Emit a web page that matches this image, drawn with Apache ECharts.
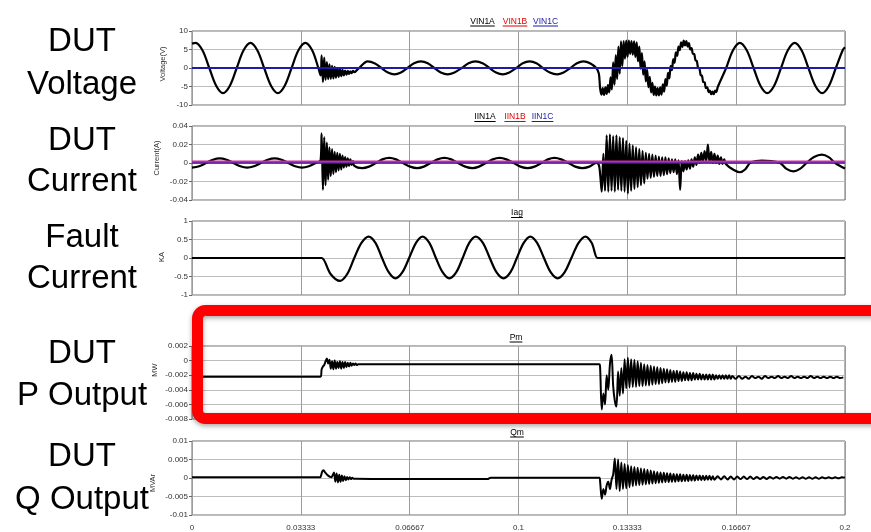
<!DOCTYPE html>
<html><head><meta charset="utf-8">
<script src="https://cdn.jsdelivr.net/npm/echarts@6/dist/echarts.min.js"></script>
<style>html,body{margin:0;padding:0;background:#fff}#c{width:871px;height:532px}</style>
</head><body><div id="c"></div>
<script>
// ===================== DATA =====================
// time axis (s)
const xTickLabels = ['0','0.03333','0.06667','0.1','0.13333','0.16667','0.2'];
const vTickLabels = ['-10','-5','0','5','10'];
const iTickLabels = ['-0.04','-0.02','0','0.02','0.04'];
const kaTickLabels = ['-1','-0.5','0','0.5','1'];
const pTickLabels = ['-0.008','-0.006','-0.004','-0.002','0','0.002'];
const qTickLabels = ['-0.01','-0.005','0','0.005','0.01'];

const panelLabels = [['DUT','Voltage'],['DUT','Current'],['Fault','Current'],['DUT','P Output'],['DUT','Q Output']];
const axisNames = ['Voltage(V)','Current(A)','KA','MW','MVAr'];
const voltageLegend = ['VIN1A','VIN1B','VIN1C'];
const currentLegend = ['IIN1A','IIN1B','IIN1C'];
const faultTitle = 'Iag', pTitle = 'Pm', qTitle = 'Qm';

// ---- DUT voltage, phase A: [t, V] points ----
const vinA_pre = [[0,6.6],[0.0011,6.8],[0.0032,4.8],[0.0053,0],[0.0074,-4.8],[0.0095,-6.8],[0.0116,-4.8],[0.0137,0],[0.0158,4.8],[0.0179,6.8],[0.02,4.8],[0.0221,0],[0.0242,-4.8],[0.0263,-6.8],[0.0284,-4.8],[0.0305,0],[0.0326,4.8],[0.0347,6.8],[0.0368,4.8],[0.0387,0],[0.0394,-2.0]];
// burst at fault inception: [start time, step] and sampled values
const vinA_b1_time = [0.0397, 0.0004];
const vinA_b1 = [3.4,-3.8,2.8,-3.2,1.6,-3.0,1.0,-2.9,0.6,-2.8,0.3,-2.6,0.0,-2.4,-0.3,-2.2,-0.5,-2.0,-0.7,-1.8,-0.8,-1.6,-0.9,-1.4,-0.8,-1.1];
const vinA_mid = [[0.0505,-0.6],[0.0512,0],[0.0538,1.8],[0.0559,1.3],[0.058,0],[0.06,-1.2],[0.062,-1.7],[0.064,-1.2],[0.066,0],[0.068,1.3],[0.0701,1.8],[0.0722,1.3],[0.0742,0],[0.0762,-1.2],[0.0783,-1.7],[0.0804,-1.2],[0.0826,0],[0.0847,1.3],[0.0868,1.8],[0.089,1.3],[0.0911,0],[0.0931,-1.2],[0.0952,-1.7],[0.0972,-1.2],[0.0993,0],[0.1013,1.3],[0.1034,1.8],[0.1055,1.3],[0.1075,0],[0.1096,-1.2],[0.1118,-1.7],[0.1138,-1.2],[0.1159,0],[0.1179,1.3],[0.1199,1.8],[0.1219,1.3],[0.1238,0],[0.1246,-1.5]];
const vinA_b2_time = [0.125, 0.0004];
const vinA_b2 = [-5.5,-7.2,-5.4,-7.3,-5.2,-7.0,-4.6,-6.6,-2.5,-5.8,
 1.5,-4.5,3.5,-3.0,5.8,-1.5,7.2,0.5,7.3,2.5,
 7.4,3.0,7.4,3.8,7.3,3.6,7.2,3.0,6.9,1.8,
 5.8,-0.2,4.0,-1.8,1.8,-3.6,-0.5,-5.2,-2.4,-6.6,
 -4.0,-7.3,-5.0,-7.4,-5.4,-7.4,-5.2,-7.2,-4.4,-6.4,
 -3.0,-4.8,-1.3,-2.8,0.6,-0.6,2.4,1.4,4.2,3.3,
 5.8,4.8,6.9,5.7,7.4,6.1,7.3,5.8,6.7,5.0,
 5.4,3.85,3.8,2.1,1.9,0.1,-0.1,-1.9,-2.1,-3.8,
 -3.85,-5.4,-5.2,-6.5,-6.1,-7.1,-6.4,-7.1,-6.1,-6.5,
 -5.2];
const vinA_post = [[0.1636,0],[0.1657,4.8],[0.1678,6.8],[0.1699,4.8],[0.172,0],[0.1741,-4.8],[0.1762,-6.8],[0.1783,-4.8],[0.1804,0],[0.1825,4.8],[0.1846,6.8],[0.1867,4.8],[0.1888,0],[0.1909,-4.8],[0.193,-6.8],[0.1951,-4.8],[0.1972,0],[0.1993,4.8],[0.2,5.6]];
const vinB = [[0,0],[0.2,0]];
const vinC = [[0,0],[0.2,0]];

// ---- DUT current, phase A: [t, A] ----
const iinA_pre = [[0,-0.005],[0.0022,-0.0035],[0.0043,0],[0.0064,0.0035],[0.0085,0.005],[0.0106,0.0035],[0.0127,0],[0.0148,-0.0035],[0.0169,-0.005],[0.019,-0.0035],[0.0211,0],[0.0232,0.0035],[0.0253,0.005],[0.0274,0.0035],[0.0295,0],[0.0316,-0.0035],[0.0337,-0.005],[0.0358,-0.0035],[0.0379,0],[0.0394,0.003]];
const iinA_b1_time = [0.0397, 0.0004];
const iinA_b1 = [0.032,-0.029,0.028,-0.024,0.022,-0.018,0.017,-0.014,0.015,-0.012,0.012,-0.010,0.011,-0.008,0.010,-0.007,0.008,-0.005,0.0065,-0.004,0.005,-0.003,0.004,-0.002,0.002,-0.003];
const iinA_mid = [[0.0521,-0.0055],[0.0542,-0.0039],[0.0563,0],[0.0583,0.0039],[0.0604,0.0055],[0.0625,0.0039],[0.0646,0],[0.0668,-0.0039],[0.069,-0.0055],[0.071,-0.0039],[0.0731,0],[0.0752,0.0039],[0.0773,0.0055],[0.0794,0.0039],[0.0815,0],[0.0837,-0.0039],[0.0859,-0.0055],[0.0879,-0.0039],[0.09,0],[0.0921,0.0039],[0.0942,0.0055],[0.0963,0.0039],[0.0985,0],[0.1006,-0.0039],[0.1028,-0.0055],[0.1049,-0.0039],[0.107,0],[0.109,0.0039],[0.111,0.0055],[0.1131,0.0039],[0.1153,0],[0.1174,-0.0039],[0.1196,-0.0055],[0.1217,-0.0039],[0.1238,0],[0.1246,-0.002]];
const iinA_b2_time = [0.125, 0.0005];
const iinA_b2 = [-0.012,-0.031,0.010,-0.030,
 0.030,-0.031,0.031,-0.030,0.029,-0.031,0.030,-0.029,0.028,-0.030,0.027,-0.031,
 0.024,-0.033,0.021,-0.030,0.019,-0.028,0.017,-0.026,0.015,-0.024,0.013,
 -0.022,0.011,-0.017,0.010,-0.016,0.009,-0.015,0.008,-0.014,0.007,-0.014,0.006,-0.013,0.006,
 -0.012,0.005,-0.011,0.004,-0.010,0.004,-0.012,0.003,
 -0.029,
 0.002,-0.009,0.002,-0.007,0.003,-0.006,0.004,-0.004,
 0.006,-0.002,0.009,0.000,0.011,0.001,0.013,0.002,0.020,
 0.001,0.012,0.000,0.010,0.000,0.008,-0.001,0.006,-0.001,0.004,-0.001];
const iinA_post = [[0.1657,-0.007],[0.1678,-0.010],[0.1694,-0.007],[0.1709,0],[0.1727,0.002],[0.1745,0.0025],[0.1775,0.002],[0.1801,0],[0.1821,-0.0064],[0.1842,-0.009],[0.1862,-0.0064],[0.1882,0],[0.1905,0.0064],[0.1929,0.009],[0.195,0.0064],[0.197,0],[0.2,-0.006]];
const iinB = [[0,0.0016],[0.2,0.0016]];
const iinC = [[0,0.0002],[0.2,0.0002]];

// ---- fault current Iag: [t, kA] ----
const iag = [[0,0],[0.039,0],[0.0397,0],[0.0425,-0.44],[0.0453,-0.62],[0.0475,-0.44],[0.0497,0],[0.0519,0.41],[0.0541,0.58],[0.0562,0.41],[0.0582,0],[0.0603,-0.39],[0.0623,-0.55],[0.0644,-0.39],[0.0665,0],[0.0686,0.41],[0.0706,0.58],[0.0727,0.41],[0.0747,0],[0.0768,-0.39],[0.0788,-0.55],[0.0809,-0.39],[0.0829,0],[0.0849,0.41],[0.0869,0.58],[0.0891,0.41],[0.0912,0],[0.0933,-0.39],[0.0954,-0.55],[0.0975,-0.39],[0.0995,0],[0.1016,0.41],[0.1036,0.58],[0.1057,0.41],[0.1078,0],[0.1099,-0.39],[0.112,-0.55],[0.1141,-0.39],[0.1162,0],[0.1184,0.41],[0.1205,0.58],[0.1224,0.41],[0.1242,0],[0.125,0],[0.2,0]];

// ---- DUT P output Pm: [t, MW] ----
const pm_pre = [[0,-0.0022],[0.0394,-0.0022]];
const pm_b1_time = [0.0397, 0.0004];
const pm_b1 = [-0.0012,-0.0008,-0.0006,-0.0001,0.0003,-0.0004,0.0001,-0.0011,-0.0001,-0.0012,0.0000,-0.0011,-0.0002,-0.0010,-0.0001,-0.0011,-0.0002,-0.0010,-0.0002,-0.0009,-0.0003,-0.0008,-0.0003,-0.0007,-0.0004,-0.0006,-0.0004,-0.0006,-0.0005];
const pm_mid = [[0.06,-0.0005],[0.09,-0.0005],[0.1248,-0.0005]];
const pm_b2_time = [0.125, 0.0005];
const pm_b2 = [-0.0010,-0.0067,-0.0045,-0.0060,-0.0020,-0.0040,-0.0005,0.0008,-0.0035,-0.0055,
 -0.0063,-0.0015,-0.0048,-0.0010,-0.0045,0.0002,-0.0038,0.0004,-0.0037,0.0002,
 -0.0036,0.0001,-0.0036,-0.0001,-0.0035,-0.0003,-0.0035,-0.0005,-0.0034,-0.0006,
 -0.0034,-0.0007,-0.0033,-0.0008,-0.0032,-0.0009,-0.0032,-0.0010,-0.0031,-0.0011,
 -0.0030,-0.0012,-0.0030,-0.0013,-0.0029,-0.0014,-0.0029,-0.0014,-0.0028,-0.0015,
 -0.0028,-0.0016,-0.0027,-0.0016,-0.0027,-0.0017,-0.0027,-0.0017,-0.0026,-0.0018,
 -0.0026,-0.0018,-0.0026,-0.0019,-0.0026,-0.0019,-0.0026,-0.0019,-0.0026,-0.0019,
 -0.0026,-0.0020,-0.0025,-0.0020,-0.0025,-0.0020,-0.0025,-0.0020,-0.0025,-0.0020,
 -0.0025];
const pm_tail_time = [0.1655, 0.001];
const pm_tail = [-0.0021,-0.0025,-0.0021,-0.0025,-0.0022,-0.0025,-0.0021,-0.0024,-0.0022,-0.0025,
 -0.0021,-0.0024,-0.0022,-0.0024,-0.0021,-0.0024,-0.0022,-0.0024,-0.0021,-0.0024,
 -0.0022,-0.0024,-0.0022,-0.0024,-0.0021,-0.0024,-0.0022,-0.0024,-0.0022,-0.0024,
 -0.0022,-0.0024,-0.0022,-0.0024,-0.0023];

// ---- DUT Q output Qm: [t, MVAr] ----
const qm_pre = [[0,0.0002],[0.0394,0.0002]];
const qm_b1_time = [0.0395, 0.0004];
const qm_b1 = [0.0003,0.0018,0.0021,0.0016,0.0012,0.0008,0.0005,0.0003,0.0002,0.0008,0.0015,-0.0010,0.0012,-0.0012,0.0009,-0.0010,0.0007,-0.0008,0.0005,-0.0006,0.0003,-0.0004,0.0002,-0.0003,0.0001,-0.0002];
const qm_mid = [[0.05,-0.0002],[0.06,-0.0003],[0.075,-0.0003],[0.0905,-0.0003],[0.0915,0.0001],[0.1248,0.0001]];
const qm_b2_time = [0.125, 0.0005];
const qm_b2 = [-0.0010,-0.0056,-0.0030,-0.0045,-0.0020,-0.0010,-0.0030,-0.0005,0.0010,0.0053,
 -0.0030,0.0050,-0.0035,0.0042,-0.0030,0.0038,-0.0028,0.0035,-0.0025,0.0032,
 -0.0022,0.0030,-0.0020,0.0028,-0.0019,0.0026,-0.0018,0.0024,-0.0017,0.0022,
 -0.0016,0.0020,-0.0015,0.0018,-0.0014,0.0016,-0.0013,0.0015,-0.0012,0.0014,
 -0.0011,0.0013,-0.0011,0.0012,-0.0010,0.0011,-0.0010,0.0010,-0.0009,0.0010,
 -0.0009,0.0009,-0.0008,0.0009,-0.0008,0.0008,-0.0007,0.0008,-0.0007,0.0007,
 -0.0006,0.0007,-0.0006,0.0006,-0.0006,0.0006,-0.0005,0.0006,-0.0005,0.0005,
 -0.0005];
const qm_tail_time = [0.161, 0.001];
const qm_tail = [0.0005,-0.0004,0.0005,-0.0004,0.0004,-0.0004,0.0004,-0.0003,0.0004,-0.0003,
 0.0004,-0.0003,0.0003,-0.0003,0.0003,-0.0003,0.0003,-0.0002,0.0003,-0.0002,
 0.0003,-0.0002,0.0003,-0.0002,0.0002,-0.0002,0.0002,-0.0002,0.0002,-0.0002,
 0.0002,-0.0002,0.0002,-0.0001,0.0002,-0.0001,0.0002,-0.0001,0.0002,0.0001];

// ===================== BUILD =====================
function sampled(time, vals){ return vals.map((v,i)=>[+(time[0]+time[1]*i).toFixed(6), v]); }
const seriesVinA = [].concat(vinA_pre, sampled(vinA_b1_time, vinA_b1), vinA_mid, sampled(vinA_b2_time, vinA_b2), vinA_post);
const seriesIinA = [].concat(iinA_pre, sampled(iinA_b1_time, iinA_b1), iinA_mid, sampled(iinA_b2_time, iinA_b2), iinA_post);
const seriesPm = [].concat(pm_pre, sampled(pm_b1_time, pm_b1), pm_mid, sampled(pm_b2_time, pm_b2), sampled(pm_tail_time, pm_tail));
const seriesQm = [].concat(qm_pre, sampled(qm_b1_time, qm_b1), qm_mid, sampled(qm_b2_time, qm_b2), sampled(qm_tail_time, qm_tail), [[0.2,0.0001]]);

const LEFT = 192, WIDTH = 653;
const panels = [
  {top:31,  height:74, min:-10,    max:10,    interval:5,     labels:vTickLabels},
  {top:126, height:74, min:-0.04,  max:0.04,  interval:0.02,  labels:iTickLabels},
  {top:221, height:74, min:-1,     max:1,     interval:0.5,   labels:kaTickLabels},
  {top:346, height:73, min:-0.008, max:0.002, interval:0.002, labels:pTickLabels},
  {top:441, height:74, min:-0.01,  max:0.01,  interval:0.005, labels:qTickLabels}
];
const XMAX = 0.2, XINT = 0.2/6;
const FONT = '"Liberation Sans", Arial, sans-serif';

const grid = panels.map(p=>({left:LEFT, width:WIDTH, top:p.top, height:p.height, show:true,
  borderColor:'#6e6e6e', borderWidth:1, backgroundColor:'#fff', containLabel:false}));
const xAxis = panels.map((p,i)=>({type:'value', gridIndex:i, min:0, max:XMAX, interval:XINT,
  axisLine:{show:false}, axisTick:{show:false},
  axisLabel:{show:i===4, fontSize:8, color:'#333', fontFamily:FONT, margin:9, hideOverlap:true,
    formatter:v=>xTickLabels[Math.round(v/XINT)]},
  splitLine:{show:true, lineStyle:{color:'#9c9c9c', width:1}}}));
const yAxis = panels.map((p,i)=>({type:'value', gridIndex:i, min:p.min, max:p.max, interval:p.interval,
  axisLine:{show:false}, axisTick:{show:true, length:3, lineStyle:{color:'#666'}},
  axisLabel:{fontSize:8, color:'#333', fontFamily:FONT, margin:4,
    formatter:v=>p.labels[Math.round((v-p.min)/p.interval)]},
  splitLine:{show:true, lineStyle:{color:'#bdbdbd', width:1}}}));

function line(data, gi, color, width, smooth){
  return {type:'line', xAxisIndex:gi, yAxisIndex:gi, data:data, showSymbol:false, symbol:'none',
    smooth:smooth, lineStyle:{color:color, width:width}, silent:true, animation:false, z:2};
}
const series = [
  line(seriesVinA, 0, '#000', 2.2, 0.35),
  line(vinB, 0, '#e00000', 2, false),
  line(vinC, 0, '#1c1ca8', 2, false),
  line(seriesIinA, 1, '#000', 2.2, 0.35),
  line(iinC, 1, '#2424b8', 2, false),
  line(iinB, 1, '#cc2a9a', 2, false),
  line(iag, 2, '#000', 2.2, 0.35),
  line(seriesPm, 3, '#000', 2, 0.3),
  line(seriesQm, 4, '#000', 2, 0.3)
];

// ---- graphics: side labels, panel titles, axis names, red highlight box ----
const ctx = document.createElement('canvas').getContext('2d');
function tw(text, font){ ctx.font = font; return ctx.measureText(text).width; }
const graphics = [];
const bigFont = '33px ' + FONT;
const bigY = [[41.5,85],[140.5,181.5],[237.5,278.5],[353.5,395.5],[456.5,499.5]];
panelLabels.forEach((lines,i)=>{
  lines.forEach((t,j)=>{
    graphics.push({type:'text', x:82, y:bigY[i][j], z:50,
      style:{text:t, font:bigFont, fill:'#000', align:'center', verticalAlign:'middle', textAlign:'center', textVerticalAlign:'middle'}});
  });
});
const smallFont = '8.5px ' + FONT;
function title(text, cx, cy, color){
  const w = tw(text, smallFont);
  graphics.push({type:'text', x:cx, y:cy, z:50,
    style:{text:text, font:smallFont, fill:color, align:'center', verticalAlign:'middle', textAlign:'center', textVerticalAlign:'middle'}});
  graphics.push({type:'line', z:50, shape:{x1:cx-w/2, y1:cy+4.5, x2:cx+w/2, y2:cy+4.5}, style:{stroke:color, lineWidth:1}});
}
const legendColors = ['#000','#e00000','#1c1ca8'];
const vx = [482.5, 515, 545.5];
voltageLegend.forEach((t,k)=>title(t, vx[k], 21.5, legendColors[k]));
const ix = [485, 515, 542.5];
currentLegend.forEach((t,k)=>title(t, ix[k], 117, legendColors[k]));
title(faultTitle, 517, 213, '#000');
title(pTitle, 516, 337.5, '#000');
title(qTitle, 517, 432.5, '#000');

const nameFont = '7.5px ' + FONT;
const namePos = [[163,64],[157,158],[162,257],[155,370],[153,483]];
axisNames.forEach((t,i)=>{
  graphics.push({type:'text', x:namePos[i][0], y:namePos[i][1], rotation:Math.PI/2, z:50,
    style:{text:t, font:nameFont, fill:'#333', align:'center', verticalAlign:'middle', textAlign:'center', textVerticalAlign:'middle'}});
});

graphics.push({type:'rect', z:100, shape:{x:197.5, y:310.5, width:720, height:108, r:8},
  style:{fill:'none', stroke:'#ff0000', lineWidth:11, shadowBlur:5, shadowColor:'rgba(0,0,0,0.35)', shadowOffsetY:2}});

const chart = echarts.init(document.getElementById('c'), null, {renderer:'canvas'});
chart.setOption({
  animation:false,
  backgroundColor:'#fff',
  grid:grid, xAxis:xAxis, yAxis:yAxis, series:series,
  graphic:{elements:graphics}
});
</script>
</body></html>
